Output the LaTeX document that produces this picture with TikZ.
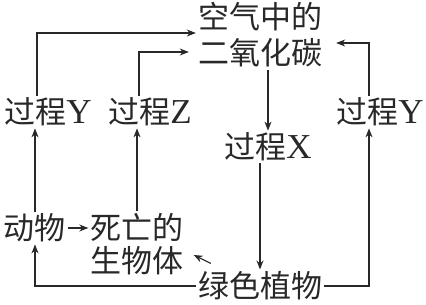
\documentclass[tikz,border=0pt]{standalone}
\usepackage{fontspec}
\setmainfont{Liberation Serif}
\newfontfamily\cjk{Noto Sans CJK SC}
\usetikzlibrary{arrows.meta,positioning,calc}
\definecolor{inkgray}{RGB}{40,40,40}
\newcommand{\guocheng}[1]{{\cjk 过程}{\fontsize{35}{35}\selectfont #1}}

\begin{document}
\begin{tikzpicture}[x=1pt,y=-1pt,
  lbl/.style={inner sep=2pt,text=inkgray,font=\fontsize{31}{34}\selectfont,align=center},
  arr/.style={draw=inkgray,line width=1.1pt,-{Stealth[length=9pt,width=7pt]}}]
\useasboundingbox (0,0) rectangle (426,305);
\node[lbl,font=\fontsize{31}{36}\selectfont\cjk] (co2) at (260,35) {空气中的\\二氧化碳};
\node[lbl] (yL) at (48,112) {\guocheng{Y}};
\node[lbl] (yZ) at (150,112) {\guocheng{Z}};
\node[lbl] (yR) at (380,112) {\guocheng{Y}};
\node[lbl] (pX) at (268,147) {\guocheng{X}};
\node[lbl,font=\fontsize{31}{34}\selectfont\cjk] (animal) at (35,228) {动物};
\node[lbl,font=\fontsize{31}{33}\selectfont\cjk] (dead) at (137,244) {死亡的\\生物体};
\node[lbl,font=\fontsize{31}{34}\selectfont\cjk] (plant) at (260,286) {绿色植物};
\draw[arr] ([xshift=-11pt]yL.north) |- ([yshift=2pt]co2.west);
\draw[arr] ([xshift=-11pt]yZ.north) |- ([xshift=-7pt,yshift=-17pt]co2.west);
\draw[arr] ([xshift=-11pt]yR.north) |- ([xshift=12pt,yshift=-8pt]co2.east);
\draw[arr] (co2.south -| pX) -- (pX.north);
\draw[arr] (pX.south -| plant) -- (plant.north);
\draw[arr] (animal.north) -- (animal.north |- yL.south);
\draw[arr] (dead.north) -- (dead.north |- yZ.south);
\draw[arr] (plant.east) -| ([xshift=-11pt]yR.south);
\draw[arr] (plant.west) -| (animal.south);
\draw[arr] (animal.east) -- (animal.east -| dead.west);
\draw[arr] ([xshift=15pt,yshift=6pt]plant.north west) -- ([xshift=8pt,yshift=-11pt]dead.east);
\end{tikzpicture}
\end{document}
